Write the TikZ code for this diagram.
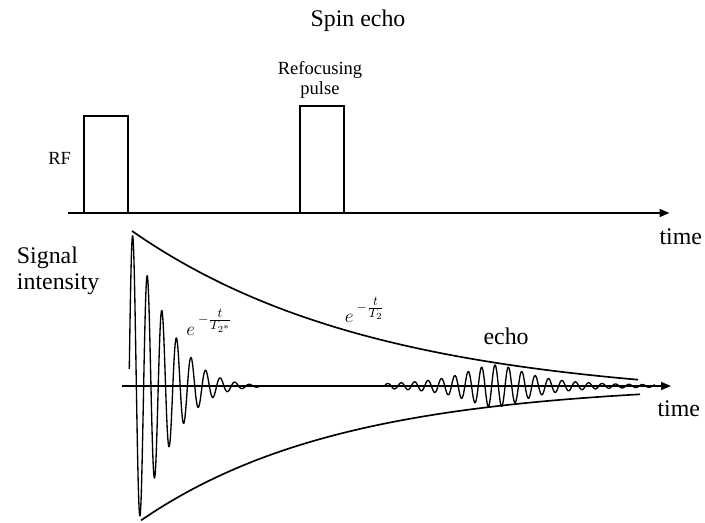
\documentclass[tikz,border=0pt]{standalone}
\usepackage{fontspec}
\setmainfont{Liberation Serif}
\usetikzlibrary{arrows.meta}
\begin{document}
\begin{tikzpicture}[x=0.75pt,y=-0.75pt,
  ax/.style={line width=1.25pt,-{Triangle[length=7.5pt,width=6pt]}},
  pulsebox/.style={line width=1.25pt},
  env/.style={line width=1.25pt},
  wave/.style={line width=1.0pt},
  lbl/.style={inner sep=0pt},
  big/.style={lbl,font=\fontsize{17.9}{19.5}\selectfont},
  mid/.style={lbl,font=\fontsize{13.9}{15}\selectfont},
  mth/.style={lbl,font=\fontsize{14.5}{16}\selectfont}]
\useasboundingbox (0,0) rectangle (705,523);
% title
\node[big,anchor=base] (title) at (358,26.7) {Spin echo};
% RF axis
\coordinate (a0) at (68,213);
\coordinate (a1) at (669.5,213);
\draw[ax] (a0) -- (a1);
\draw[pulsebox] (84,213) -- (84,116) -- (128,116) -- (128,213);
\draw[pulsebox] (300,213) -- (300,106) -- (344,106) -- (344,213);
\node[mid,anchor=base] (rf) at (59.7,165) {RF};
\node[mid,anchor=base,align=center] (refoc) at (320,95) {Refocusing\\pulse};
\node[big,anchor=base west] (time1) at (659.3,245) {time};
% signal axis
\coordinate (b0) at (122,386);
\coordinate (b1) at (671,386);
\draw[ax] (b0) -- (b1);
\node[big,anchor=base west,align=left] (sig) at (16.7,290) {Signal\\intensity};
\node[big,anchor=base west] (time2) at (657.3,416.7) {time};
\node[big,anchor=base west] (echo) at (483.3,344.3) {echo};
% envelopes
\draw[env] plot[domain=132:638,samples=80] (\x,{386-(170*exp(-0.0041*(\x-132))-15)});
\draw[env] plot[domain=141:640,samples=80] (\x,{386+(136*exp(-0.005*(\x-143))-3)});
% FID
\draw[wave,line join=round] plot[domain=129.3:262,samples=600]
  (\x,{386-150*exp(-0.0187*(\x-132.7)-0.000162*(\x-132.7)*(\x-132.7))*cos(24.6575*(\x-132.7))});
% echo
\draw[wave,line join=round] plot[domain=385:655,samples=600]
  (\x,{386-21/(1+((\x-495)/40)*((\x-495)/40))*cos(26.8657*(\x-495))});
% labels
\node[mth,anchor=base west] (t2s) at (186,335.5)
  {$e\,\raisebox{9.3pt}{$\scriptstyle-\frac{\scriptstyle t}{\scriptstyle T_{2^*}}$}$};
\node[mth,anchor=base west] (t2) at (344.5,322.5)
  {$e\,\raisebox{8.5pt}{$\scriptstyle-\frac{\scriptstyle t}{\scriptstyle T_{2}}$}$};
\end{tikzpicture}
\end{document}
